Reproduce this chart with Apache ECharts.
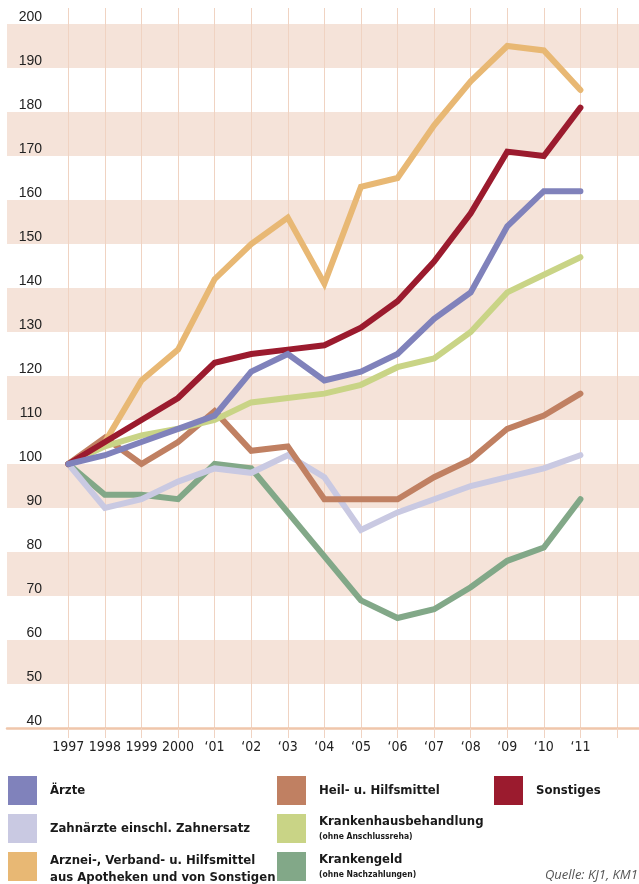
<!DOCTYPE html>
<html>
<head>
<meta charset="utf-8">
<title>Ausgabenentwicklung GKV 1997-2011</title>
<script src="https://cdn.jsdelivr.net/npm/echarts@6/dist/echarts.min.js"></script>
<style>
html, body { margin: 0; padding: 0; background: #fff; }
#chart { width: 639px; height: 884px; }
</style>
</head>
<body>
<div id="chart"></div>
<script>
// Jahre (letzte Kategorie leer, nur Gitterlinie)
const years = ['1997', '1998', '1999', '2000', '\u201801', '\u201802', '\u201803', '\u201804', '\u201805', '\u201806', '\u201807', '\u201808', '\u201809', '\u201810', '\u201811', ''];

// Index 1997 = 100
const aerzte       = [100, 102, 105, 108, 111, 121, 125, 119, 121, 125, 133, 139, 154, 162, 162];
const zahnaerzte   = [100, 90, 92, 96, 99, 98, 102, 97, 85, 89, 92, 95, 97, 99, 102];
const arznei       = [100, 105, 119, 126, 142, 150, 156, 141, 163, 165, 177, 187, 195, 194, 185];
const heilmittel   = [100, 106, 100, 105, 112, 103, 104, 92, 92, 92, 97, 101, 108, 111, 116];
const krankenhaus  = [100, 104, 106.5, 108, 110, 114, 115, 116, 118, 122, 124, 130, 139, 143, 147];
const krankengeld  = [100, 93, 93, 92, 100, 99, 89, 79, 69, 65, 67, 72, 78, 81, 92];
const sonstiges    = [100, 105, 110, 115, 123, 125, 126, 127, 131, 137, 146, 157, 171, 170, 181];

// Legende: Name, Zusatz
const names = {
    aerzte: 'Ärzte',
    zahn: 'Zahnärzte einschl. Zahnersatz',
    arznei: 'Arznei-, Verband- u. Hilfsmittel',
    heil: 'Heil- u. Hilfsmittel',
    kh: 'Krankenhausbehandlung',
    kg: 'Krankengeld',
    sonst: 'Sonstiges'
};
const subText = {
    'Arznei-, Verband- u. Hilfsmittel': ['b', 'aus Apotheken und von Sonstigen'],
    'Krankenhausbehandlung': ['s', '(ohne Anschlussreha)'],
    'Krankengeld': ['s', '(ohne Nachzahlungen)']
};

const narrow = "'Liberation Sans Narrow', 'DejaVu Sans Condensed', sans-serif";
const gridColor = '#f0d3c2';
const yMin = 40;
const yMax = 203.64;

const chart = echarts.init(document.getElementById('chart'));

function line(name, data, color) {
    return {
        name: name,
        type: 'line',
        xAxisIndex: 1,
        yAxisIndex: 1,
        data: data,
        symbol: 'none',
        color: color,
        lineStyle: { color: color, width: 6, cap: 'round', join: 'miter' }
    };
}

function legendBox(left, data) {
    return {
        left: left,
        top: 776,
        height: 140,
        orient: 'vertical',
        padding: 0,
        itemGap: 9,
        itemWidth: 29,
        itemHeight: 29,
        icon: 'rect',
        selectedMode: false,
        itemStyle: { borderWidth: 0 },
        data: data,
        formatter: function (name) {
            const sub = subText[name];
            if (!sub) return '{a|' + name + '}';
            return '{a|' + name + '}\n{' + sub[0] + '|' + sub[1] + '}';
        },
        textStyle: {
            padding: [0, 0, 0, 8],
            rich: {
                a: { fontFamily: narrow, fontWeight: 'bold', fontSize: 13, color: '#1a1a1a', lineHeight: 16 },
                b: { fontFamily: narrow, fontWeight: 'bold', fontSize: 13, color: '#1a1a1a', lineHeight: 18 },
                s: { fontFamily: narrow, fontWeight: 'bold', fontSize: 8.5, color: '#1a1a1a', lineHeight: 13 }
            }
        }
    };
}

const option = {
    animation: false,
    backgroundColor: '#fff',
    title: {
        text: 'Quelle: KJ1, KM1',
        left: 545,
        top: 869,
        padding: 0,
        textStyle: { fontFamily: "'Open Sans', sans-serif", fontStyle: 'italic', fontWeight: 'normal', fontSize: 13, color: '#555' }
    },
    legend: [
        legendBox(8, [names.aerzte, names.zahn, { name: names.arznei, textStyle: { padding: [6, 0, 0, 8] } }]),
        legendBox(277, [names.heil, names.kh, names.kg]),
        legendBox(494, [names.sonst])
    ],
    grid: [
        { left: 7, right: 0, top: 8, bottom: 156 },       // Streifen + Achse
        { left: 68.3, right: 22, top: 8, bottom: 156 }    // Linien
    ],
    xAxis: [
        {
            gridIndex: 0, type: 'value', min: 0, max: 1,
            axisLine: { show: true, onZero: false, lineStyle: { color: '#f0c6ab', width: 2.5 } },
            axisTick: { show: false }, axisLabel: { show: false }, splitLine: { show: false }
        },
        {
            gridIndex: 1, type: 'category', boundaryGap: false, data: years,
            axisLine: { show: false },
            axisTick: { show: true, length: 10, interval: 0, lineStyle: { color: gridColor } },
            axisLabel: { interval: 0, margin: 12, fontFamily: narrow, fontSize: 14, color: '#222' },
            splitLine: { show: true, interval: 0, lineStyle: { color: gridColor, width: 1 } }
        }
    ],
    yAxis: [
        {
            gridIndex: 0, type: 'value', min: yMin, max: yMax, interval: 10,
            axisLine: { show: false }, axisTick: { show: false }, splitLine: { show: false },
            splitArea: { show: true, areaStyle: { color: ['#ffffff', '#f5e3d9'] } },
            axisLabel: {
                inside: true, align: 'right', margin: 35, verticalAlign: 'bottom',
                fontFamily: "'Liberation Sans', sans-serif", fontSize: 14, color: '#222',
                formatter: function (v) { return v % 10 === 0 ? String(v) : ''; }
            }
        },
        {
            gridIndex: 1, type: 'value', min: yMin, max: yMax, interval: 10,
            axisLine: { show: false }, axisTick: { show: false },
            axisLabel: { show: false }, splitLine: { show: false }
        }
    ],
    series: [
        line(names.kg, krankengeld, '#82a888'),
        line(names.zahn, zahnaerzte, '#c9c9e2'),
        line(names.heil, heilmittel, '#c08062'),
        line(names.kh, krankenhaus, '#c9d486'),
        line(names.arznei, arznei, '#e8b874'),
        line(names.sonst, sonstiges, '#9b1b2e'),
        line(names.aerzte, aerzte, '#8082bb')
    ]
};

chart.setOption(option);
</script>
</body>
</html>
